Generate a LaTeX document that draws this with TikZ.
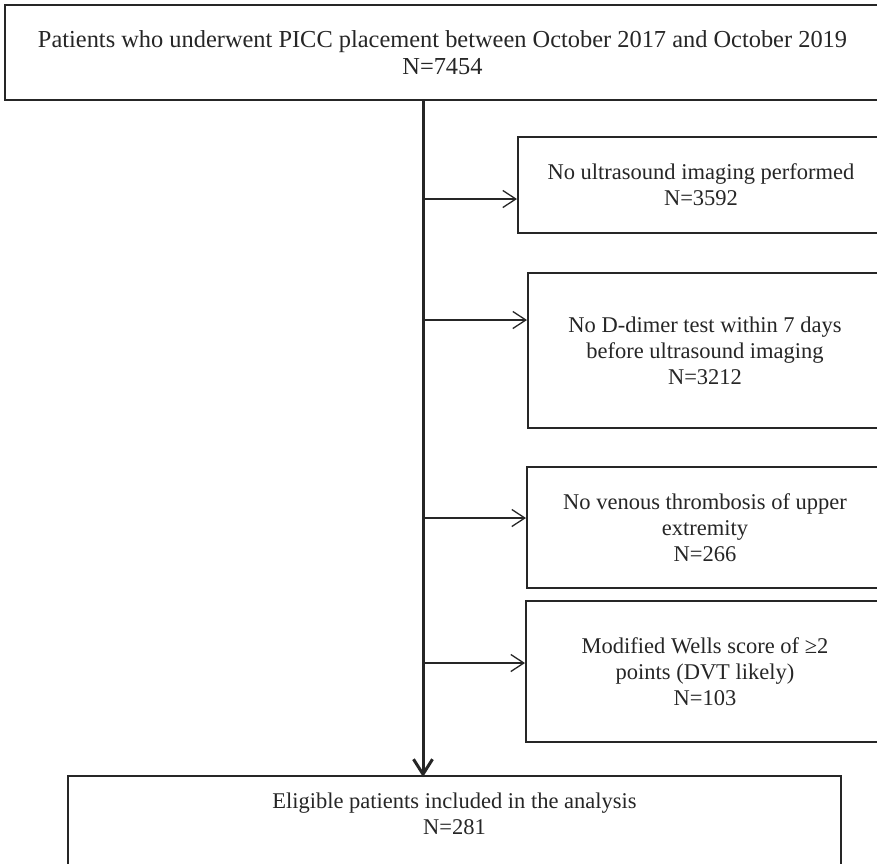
\documentclass[tikz,border=0pt]{standalone}
\usepackage{fontspec}
\setmainfont{Liberation Serif}
\usetikzlibrary{arrows.meta}
\definecolor{ink}{HTML}{262626}
\tikzset{
  box/.style={draw=ink, line width=2pt, rectangle, inner sep=0pt, align=center,
    font=\fontsize{22.5}{26}\selectfont, text=ink},
  spineline/.style={draw=ink, line width=3pt, -{Straight Barb[length=15pt, width=19pt, line width=3pt]}},
  branch/.style={draw=ink, line width=1.3pt, -{Straight Barb[length=13pt, width=17pt, line width=1.3pt]}},
}
\begin{document}
\begin{tikzpicture}[x=1pt, y=-1pt]
\useasboundingbox (0,0) rectangle (877,863);
\clip (0,0) rectangle (877,863);
\fill[white] (0,0) rectangle (877,863);

\node[box, minimum width=875pt, minimum height=95pt, font=\fontsize{24.4}{27}\selectfont] (top) at (442.5,52.5)
  {Patients who underwent PICC placement between October 2017 and October 2019\\N=7454};
\node[box, minimum width=366pt, minimum height=96pt] (b1) at (701,185)
  {No ultrasound imaging performed\\N=3592};
\node[box, minimum width=354pt, minimum height=155pt] (b2) at (705,350.5)
  {No D-dimer test within 7 days\\before ultrasound imaging\\N=3212};
\node[box, minimum width=356pt, minimum height=121pt] (b3) at (705,527.5)
  {No venous thrombosis of upper\\extremity\\N=266};
\node[box, minimum width=358pt, minimum height=141pt] (b4) at (705,671.5)
  {Modified Wells score of ≥2\\points (DVT likely)\\N=103};
\node[box, draw=none, minimum width=771pt, anchor=north, inner ysep=15.5pt] (final) at (454.5,776)
  {Eligible patients included in the analysis\\N=281};
\draw[ink, line width=2pt] ([yshift=-150pt]final.north west) -- (final.north west)
  -- (final.north east) -- ([yshift=-150pt]final.north east);

\coordinate (spine) at (423,0);
\coordinate (c1) at (423,199);
\coordinate (c2) at (423,320);
\coordinate (c3) at (423,518);
\coordinate (c4) at (423,663);

\draw[spineline] (top.south -| spine) -- ([yshift=-1pt]final.north -| spine);
\draw[branch] (c1) -- (c1 -| b1.west);
\draw[branch] (c2) -- (c2 -| b2.west);
\draw[branch] (c3) -- (c3 -| b3.west);
\draw[branch] (c4) -- (c4 -| b4.west);
\end{tikzpicture}
\end{document}
